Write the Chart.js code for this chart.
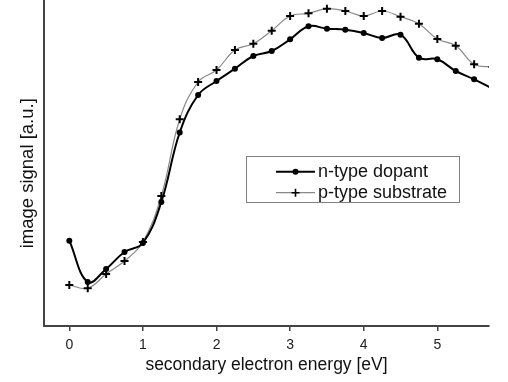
<!DOCTYPE html>
<html>
<head>
<meta charset="utf-8">
<script src="https://cdn.jsdelivr.net/npm/chart.js@4.4.1/dist/chart.umd.min.js"></script>
<style>
html,body{margin:0;padding:0;background:#fff;}
#wrap{width:508px;height:382px;position:relative;}
</style>
</head>
<body>
<div id="wrap"><canvas id="c" width="508" height="382"></canvas></div>
<script>
// energies [eV]
const energy = [0,0.25,0.5,0.75,1,1.25,1.5,1.75,2,2.25,2.5,2.75,3,3.25,3.5,3.75,4,4.25,4.5,4.75,5,5.25,5.5,5.75];
// image signal [a.u.]
const nTypeDopant = [85.3,44,57,74,83,124,193.5,231,245,257.3,270,275,286.7,299.7,297.3,296.3,293,288,291.3,268.3,266.7,255,246.7,237.4];
const pTypeSubstrate = [41,37.7,52,65,84,130,206.7,244,256,276,282.3,295.3,310,312.7,317.3,315,310,315,309.3,302.3,287,280.3,261.7,259];
const xTicks = [0,1,2,3,4,5];
const seriesLabels = ['n-type dopant','p-type substrate'];

const FONT = "'Liberation Sans', Arial, sans-serif";
const AXIS = '#444';

const legendBox = {
  id: 'legendBox',
  afterDatasetsDraw(chart) {
    const ctx = chart.ctx;
    ctx.save();
    ctx.strokeStyle = '#808080';
    ctx.lineWidth = 1;
    ctx.strokeRect(246.5, 156.5, 213, 46);
    const rows = [171.7, 192.7];
    chart.data.datasets.forEach((ds, i) => {
      const y = rows[i];
      ctx.strokeStyle = ds.borderColor;
      ctx.lineWidth = ds.borderWidth;
      ctx.beginPath(); ctx.moveTo(276, y); ctx.lineTo(315, y); ctx.stroke();
      ctx.fillStyle = '#000'; ctx.strokeStyle = '#000';
      if (i === 0) {
        ctx.beginPath(); ctx.arc(295.5, y, 3, 0, Math.PI*2); ctx.fill();
      } else {
        ctx.lineWidth = 1.6;
        ctx.beginPath();
        ctx.moveTo(291.5, y); ctx.lineTo(299.5, y);
        ctx.moveTo(295.5, y-4); ctx.lineTo(295.5, y+4);
        ctx.stroke();
      }
      ctx.fillStyle = '#111';
      ctx.font = '18px ' + FONT;
      ctx.textBaseline = 'middle';
      ctx.textAlign = 'left';
      ctx.fillText(ds.label, 318, y);
    });
    ctx.restore();
  }
};

new Chart(document.getElementById('c'), {
  type: 'line',
  data: {
    datasets: [
      {
        label: seriesLabels[0],
        data: energy.map((e, i) => ({x: e, y: nTypeDopant[i]})),
        borderColor: '#000',
        borderWidth: 2,
        backgroundColor: '#000',
        pointStyle: 'circle',
        pointRadius: 3,
        pointBorderWidth: 0,
        pointBackgroundColor: '#000',
        tension: 0.4,
        clip: 0
      },
      {
        label: seriesLabels[1],
        data: energy.map((e, i) => ({x: e, y: pTypeSubstrate[i]})),
        borderColor: '#888',
        borderWidth: 1.2,
        pointStyle: 'cross',
        pointRadius: 4,
        pointBorderWidth: 2,
        pointBorderColor: '#000',
        tension: 0.4,
        clip: 0
      }
    ]
  },
  options: {
    responsive: false,
    animation: false,
    devicePixelRatio: 1,
    layout: {autoPadding: false, padding: {left: 0, right: 19, top: 0, bottom: 0}},
    plugins: {legend: {display: false}, tooltip: {enabled: false}},
    scales: {
      x: {
        type: 'linear',
        min: -0.344,
        max: 5.702,
        afterBuildTicks: s => { s.ticks = xTicks.map(v => ({value: v})); },
        afterFit: s => { s.height = 56; s.paddingLeft = 0; s.paddingRight = 0; },
        border: {display: true, color: AXIS, width: 2},
        grid: {drawOnChartArea: false, drawTicks: true, tickLength: 5, color: AXIS, lineWidth: 1.5},
        ticks: {color: '#222', font: {family: FONT, size: 14}, padding: 6},
        title: {display: true, text: 'secondary electron energy [eV]', color: '#111',
                font: {family: FONT, size: 17.5}, padding: {top: 0, bottom: 6}}
      },
      y: {
        type: 'linear',
        min: 0,
        max: 326,
        afterFit: s => { s.width = 44; s.paddingTop = 0; s.paddingBottom = 0; },
        border: {display: true, color: AXIS, width: 2},
        grid: {drawOnChartArea: false, drawTicks: false},
        ticks: {display: false},
        title: {display: true, text: 'image signal [a.u.]\u00a0\u00a0\u00a0\u00a0', color: '#111',
                font: {family: FONT, size: 18.5}, padding: {top: 17, bottom: 0}}
      }
    }
  },
  plugins: [legendBox]
});
</script>
</body>
</html>
